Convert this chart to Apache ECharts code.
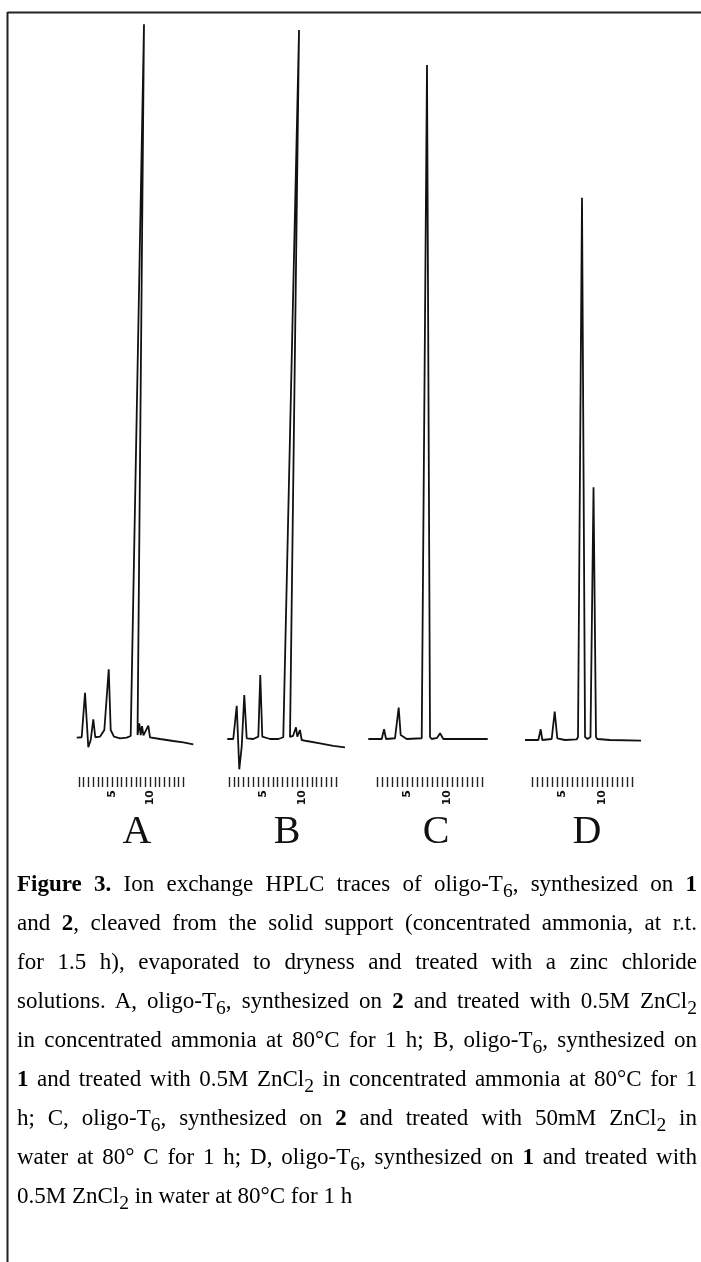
<!DOCTYPE html>
<html>
<head>
<meta charset="utf-8">
<script src="https://cdn.jsdelivr.net/npm/echarts@6/dist/echarts.min.js"></script>
<style>
  html, body { margin: 0; padding: 0; background: #fff; }
  #wrap { position: relative; width: 701px; height: 1262px; overflow: hidden; }
  #chart { position: absolute; left: 0; top: 0; width: 701px; height: 1262px; }
  #caption {
    position: absolute; left: 17px; top: 864px; width: 680px;
    font-family: 'Liberation Serif', 'Times New Roman', serif;
    font-size: 23px; line-height: 39px; color: #000;
  }
  #caption div { text-align: justify; text-align-last: justify; height: 39px; white-space: nowrap; }
  #caption div.last { text-align-last: left; }
  #caption sub { font-size: 0.85em; vertical-align: -0.32em; line-height: 0; }
</style>
</head>
<body>
<div id="wrap">
  <div id="chart"></div>
  <div id="caption">
    <div><b>Figure 3.</b> Ion exchange HPLC traces of oligo-T<sub>6</sub>, synthesized on <b>1</b></div>
    <div>and <b>2</b>, cleaved from the solid support (concentrated ammonia, at r.t.</div>
    <div>for 1.5 h), evaporated to dryness and treated with a zinc chloride</div>
    <div>solutions. A, oligo-T<sub>6</sub>, synthesized on <b>2</b> and treated with 0.5M ZnCl<sub>2</sub></div>
    <div>in concentrated ammonia at 80°C for 1 h; B, oligo-T<sub>6</sub>, synthesized on</div>
    <div><b>1</b> and treated with 0.5M ZnCl<sub>2</sub> in concentrated ammonia at 80°C for 1</div>
    <div>h; C, oligo-T<sub>6</sub>, synthesized on <b>2</b> and treated with 50mM ZnCl<sub>2</sub> in</div>
    <div>water at 80° C for 1 h; D, oligo-T<sub>6</sub>, synthesized on <b>1</b> and treated with</div>
    <div class="last">0.5M ZnCl<sub>2</sub> in water at 80°C for 1 h</div>
  </div>
</div>
<script>
// traces: [retention time (min), absorbance (a.u.)]
const traceA = [[0.36,0.32],[1.01,0.38],[1.22,0.46],[1.45,6.57],[1.88,-1.01],[2.20,0],[2.54,2.88],[2.80,0.38],
  [3.42,0.46],[3.99,1.39],[4.57,9.82],[4.83,1.39],[5.26,0.46],[6.05,0.24],[6.93,0.32],[7.46,0.56],[7.70,0.69],
  [9.21,99.4],[8.36,0.69],[8.59,2.32],[8.78,0.69],[8.95,1.94],[9.14,0.63],[9.34,0.56],[9.78,1.99],[10.0,0.38],
  [11.32,0.14],[13.07,-0.14],[14.38,-0.32],[15.70,-0.60]];
const traceB = [[0.42,0.14],[1.19,0.14],[1.41,0.24],[1.63,4.76],[1.96,-4.07],[2.27,-0.93],[2.60,6.25],[2.91,0.24],
  [3.76,0.14],[4.40,0.46],[4.65,9.03],[4.91,0.46],[5.90,0.14],[6.96,0.14],[7.60,0.38],[7.82,0.42],
  [9.62,98.6],[8.46,0.42],[8.85,0.56],[9.23,1.76],[9.40,0.46],[9.74,1.39],[9.96,0],[10.60,-0.14],
  [12.31,-0.46],[14.01,-0.83],[15.51,-1.01]];
const traceC = [[0.16,0.14],[1.84,0.14],[2.13,1.49],[2.38,0.14],[3.50,0.24],[3.96,4.49],[4.21,0.69],[4.54,0.46],
  [4.96,0.14],[6.84,0.24],[7.06,0.42],[7.50,93.75],[7.88,0.42],[8.09,0.14],[8.75,0.28],[9.13,0.93],[9.54,0.14],
  [15.09,0.14]];
const traceD = [[0.38,0],[2.04,0],[2.34,1.49],[2.54,0],[3.71,0.14],[4.09,3.93],[4.41,0.24],[5.38,0],[6.84,0.10],
  [7.00,0.42],[7.50,75.3],[7.88,0.42],[8.19,0.14],[8.56,0.42],[8.94,35.1],[9.25,0.42],[9.41,0.14],[11.0,0],
  [14.88,-0.10]];

const traces = [traceA, traceB, traceC, traceD];
const panelNames = ['A', 'B', 'C', 'D'];
const rulerStep = 0.625;
const rulerMin = [0.625, 0.625, 1.25, 1.25];
const rulerMax = [14.375, 14.375, 14.375, 13.75];
const rulerLabels = [5, 10];
const timeMax = 16;
const absMin = -12, absMax = 101;

// layout of the four panels (pixels)
const panelLeft = [74, 224, 367, 522];
const pxPerMin = [7.6, 7.8, 8, 8];
const pxPerAbs = 7.2;
const baseY = 740;
const letterX = [137, 287, 436, 587];

const chart = echarts.init(document.getElementById('chart'), null, { renderer: 'canvas' });

const grid = [], xAxis = [], yAxis = [], series = [];
traces.forEach((data, i) => {
  grid.push({
    left: panelLeft[i], width: timeMax * pxPerMin[i],
    top: baseY - absMax * pxPerAbs, height: (absMax - absMin) * pxPerAbs
  });
  xAxis.push({ type: 'value', gridIndex: i * 2, min: 0, max: timeMax, show: false });
  yAxis.push({ type: 'value', gridIndex: i * 2, min: absMin, max: absMax, show: false });
  series.push({
    type: 'line', xAxisIndex: i * 2, yAxisIndex: i * 2, data: data,
    showSymbol: false, silent: true, animation: false,
    lineStyle: { color: '#111', width: 1.8 }
  });

  // time ruler under each trace
  grid.push({
    left: panelLeft[i] + rulerMin[i] * pxPerMin[i],
    width: (rulerMax[i] - rulerMin[i]) * pxPerMin[i],
    top: 767, height: 10
  });
  xAxis.push({
    type: 'value', gridIndex: i * 2 + 1, min: rulerMin[i], max: rulerMax[i], interval: rulerStep,
    axisLine: { show: false },
    axisTick: { show: true, length: 10, lineStyle: { color: '#222', width: 1.4 } },
    splitLine: { show: false },
    axisLabel: {
      interval: 0, rotate: 90, margin: 13, color: '#111', fontSize: 11, fontWeight: 'bold',
      fontFamily: 'DejaVu Sans',
      formatter: v => (rulerLabels.indexOf(v) >= 0 ? String(v) : '')
    }
  });
  yAxis.push({ type: 'value', gridIndex: i * 2 + 1, min: 0, max: 1, show: false });
});

const graphic = [
  { type: 'line', shape: { x1: 7.5, y1: 12.5, x2: 701, y2: 12.5 }, style: { stroke: '#222', lineWidth: 2 } },
  { type: 'line', shape: { x1: 7.5, y1: 12, x2: 7.5, y2: 1262 }, style: { stroke: '#222', lineWidth: 2 } }
];
panelNames.forEach((name, i) => {
  graphic.push({
    type: 'text', x: letterX[i], y: 832,
    style: { text: name, font: '40px "Liberation Serif"', fill: '#111', textAlign: 'center', textVerticalAlign: 'middle' }
  });
});

chart.setOption({
  backgroundColor: '#fff',
  animation: false,
  grid: grid,
  xAxis: xAxis,
  yAxis: yAxis,
  series: series,
  graphic: graphic
});
</script>
</body>
</html>
